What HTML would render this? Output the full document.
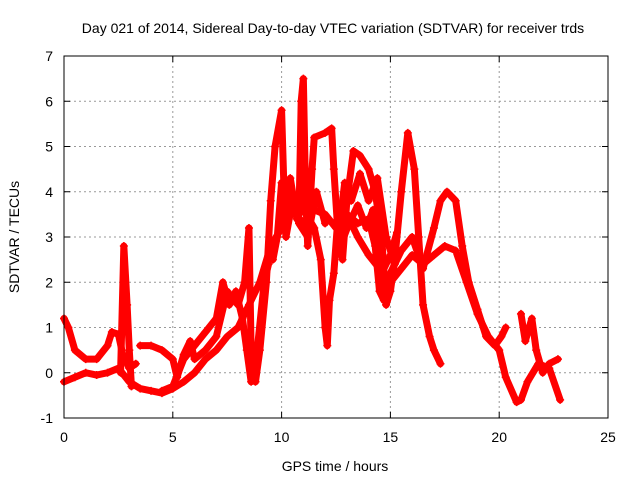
<!DOCTYPE html>
<html><head><meta charset="utf-8"><style>
body{margin:0;background:#fff;}
svg{display:block;font-family:"Liberation Sans",sans-serif;}
</style></head><body>
<svg id="chart" width="640" height="480">
<text x="333" y="33" text-anchor="middle" font-size="14">Day 021 of 2014, Sidereal Day-to-day VTEC variation (SDTVAR) for receiver trds</text>
<text x="335" y="471" text-anchor="middle" font-size="14">GPS time / hours</text>
<text transform="translate(19,237) rotate(-90)" text-anchor="middle" font-size="14">SDTVAR / TECUs</text>
<g id="grid"></g><g id="ticks"></g><g id="marks"></g>
<rect x="64" y="56" width="544" height="362" fill="none" stroke="#000" stroke-width="1"/>
</svg>
<script>
const xTicks=[0,5,10,15,20,25];
const yTicks=[-1,0,1,2,3,4,5,6,7];
const traceA=[[0,-0.2],[0.5,-0.1],[1,0],[1.5,-0.05],[2,0],[2.5,0.1],[3,-0.2],[3.5,-0.35],[4,-0.4],[4.5,-0.45],[5,-0.35],[5.5,-0.2],[6,0],[6.5,0.3],[7,0.5],[7.5,0.8],[8,1.0],[8.5,1.5],[9,2.0],[9.5,2.8],[10,3.2],[10.5,3.6],[11,3.3],[11.5,3.6],[12,3.5],[12.5,3.2],[13,3.5],[13.5,3.0],[14,2.6],[14.5,2.3],[15,2.0],[15.5,2.3],[16,2.6],[16.5,2.4],[17,2.6],[17.5,2.8],[18,2.7],[18.5,2.0],[19,1.3],[19.5,0.8],[20,0.5],[20.3,-0.1],[20.8,-0.65],[21,-0.6],[21.3,-0.2],[21.8,0.2],[22.3,0.1],[22.8,-0.6]];
const traceB=[[0,1.2],[0.2,1.0],[0.5,0.5],[1,0.3],[1.5,0.3],[2,0.6],[2.2,0.9],[2.5,0.85],[2.7,0.4],[3,0.1],[3.3,0.2]];
const traceC=[[2.6,0.0],[2.75,2.8],[2.9,1.5],[3.0,0.5],[3.1,-0.3]];
const traceD=[[3.5,0.6],[4,0.6],[4.5,0.5],[5,0.3],[5.2,-0.1],[5.5,0.4],[5.8,0.7],[6,0.3],[6.5,0.5],[7,0.8],[7.5,1.8],[8,1.5],[8.3,2.0],[8.5,3.2],[8.6,0.5],[8.8,-0.2],[9,0.5],[9.3,2.0],[9.5,3.8],[9.7,5.0],[10,5.8],[10.1,4.2],[10.3,3.5],[10.6,3.8],[10.8,3.5],[10.9,6.0],[11.0,6.5],[11.1,4.0],[11.2,2.8],[11.4,4.5],[11.5,5.2],[12,5.3],[12.3,5.4],[12.4,4.5],[12.6,3.0],[12.8,2.5],[13,3.8],[13.3,4.9],[13.6,4.8],[14,4.5],[14.3,4.0],[14.6,3.0],[14.8,1.5],[15,1.8],[15.2,2.5],[15.5,4.0],[15.8,5.3],[16.1,4.5],[16.3,3.0],[16.5,1.5],[16.8,0.8],[17,0.5],[17.3,0.2]];
const traceE=[[11.0,3.6],[11.5,3.2],[11.8,2.5],[12.0,1.0],[12.1,0.6],[12.2,1.6],[12.4,2.2],[12.6,3.5],[13,3.5],[13.5,3.3],[14,3.4],[14.3,2.8],[14.5,1.8],[14.7,1.6],[15,2.2],[15.5,2.7],[16,3.0],[16.5,2.3],[17,3.2],[17.3,3.8],[17.6,4.0],[18,3.8],[18.3,2.8],[18.6,2.0],[19,1.4],[19.4,0.8],[19.8,0.6],[20.1,0.8],[20.3,1.0]];
const traceF=[[9.6,2.5],[9.8,3.0],[10,4.2],[10.2,3.0],[10.5,3.8],[10.8,3.3],[11.2,3.0],[11.6,4.0],[12.0,3.3]];
const traceG=[[4.5,-0.4],[5,-0.3],[5.5,0.3],[6,0.6],[6.5,0.9],[7,1.2],[7.3,2.0],[7.6,1.5],[7.9,1.8],[8.2,1.2],[8.4,0.5],[8.6,-0.2],[8.9,0.6],[9.2,2.0],[9.4,2.4]];
const traceH=[[21,1.3],[21.2,0.7],[21.5,1.2],[21.7,0.5],[22,0.0],[22.3,0.2],[22.7,0.3]];
const traceI=[[12.6,3.0],[12.9,4.2],[13.2,3.8],[13.6,4.4],[14,3.8],[14.4,4.3],[14.8,3.0],[15.2,2.4]];
const traceJ=[[12.7,2.8],[13.1,3.3],[13.5,3.7],[13.9,3.2],[14.2,3.6],[14.6,2.2],[15,2.6],[15.3,3.1]];
const traceK=[[9.9,3.3],[10.2,3.6],[10.4,4.3],[10.7,3.4]];
const series=[traceA,traceB,traceC,traceD,traceE,traceF,traceG,traceH,traceI,traceJ,traceK];
const NS="http://www.w3.org/2000/svg";
const xs=t=>64+t*544/25, ys=v=>418-(v+1)*362/8;
function mk(tag,attrs,parent){const e=document.createElementNS(NS,tag);for(const k in attrs)e.setAttribute(k,attrs[k]);parent.appendChild(e);return e;}
const grid=document.getElementById('grid'),ticks=document.getElementById('ticks'),marks=document.getElementById('marks');
xTicks.forEach(t=>{const x=xs(t);
 if(t>0&&t<25){const g=mk('line',{x1:x,x2:x,y1:56,y2:418,stroke:'#999','stroke-dasharray':'2,3'},grid);
 
 }
 mk('line',{x1:x,x2:x,y1:418,y2:412,stroke:'#000'},ticks);mk('line',{x1:x,x2:x,y1:56,y2:62,stroke:'#000'},ticks);
 const l=mk('text',{x:x,y:442,'text-anchor':'middle','font-size':14},ticks);l.textContent=t;
 
 });
yTicks.forEach(v=>{const y=ys(v);
 if(v>-1&&v<7){const g=mk('line',{x1:64,x2:608,y1:y,y2:y,stroke:'#999','stroke-dasharray':'2,3'},grid);
 
 }
 mk('line',{x1:64,x2:70,y1:y,y2:y,stroke:'#000'},ticks);mk('line',{x1:608,x2:602,y1:y,y2:y,stroke:'#000'},ticks);
 const l=mk('text',{x:53,y:y+5,'text-anchor':'end','font-size':14},ticks);l.textContent=v;
 
 });
series.forEach((s,i)=>{
 const p=mk('polyline',{points:s.map(d=>xs(d[0])+','+ys(d[1])).join(' '),fill:'none',stroke:'#f00','stroke-width':7,'stroke-linejoin':'round','stroke-linecap':'round'},marks);
 
 
 s.forEach(d=>{const x=xs(d[0]),y=ys(d[1]);
  const m=mk('path',{d:`M${x-4},${y}H${x+4}M${x},${y-4}V${y+4}`,stroke:'#f00','stroke-width':1.5},marks);
  
  });
});
</script>
</body></html>
